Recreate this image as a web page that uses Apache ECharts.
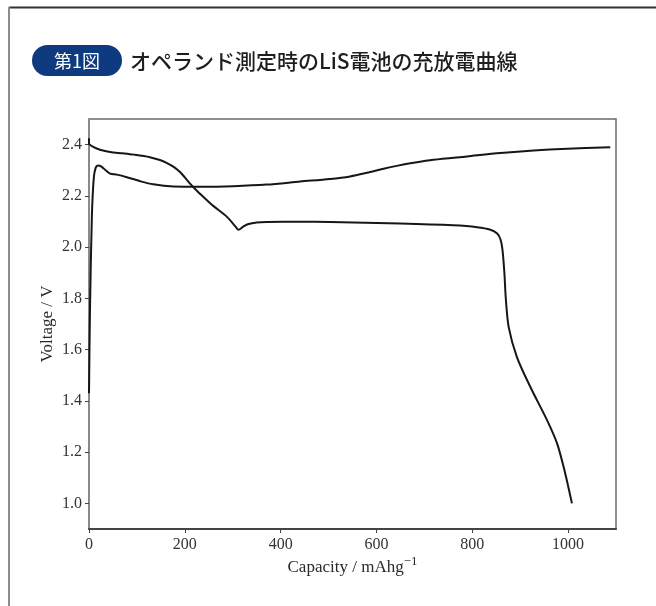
<!DOCTYPE html>
<html>
<head>
<meta charset="utf-8">
<script src="https://cdn.jsdelivr.net/npm/echarts@6/dist/echarts.min.js"></script>
<style>
  html, body { margin: 0; padding: 0; background: #fff; }
  #chart { width: 656px; height: 606px; }
</style>
</head>
<body>
<div id="chart"></div>
<script>
// Discharge curve (capacity in mAh/g, voltage in V)
const dischargeCapacity = [0, 0, 10, 23, 44, 70, 93, 127, 148, 162, 176, 190, 200, 210, 222, 240, 260, 288, 305, 312, 322, 333, 350, 371, 441, 503, 650, 760, 810, 838, 852, 859, 863, 867, 870, 876, 893, 921, 956, 977, 994, 1008];
const dischargeVoltage  = [2.425, 2.404, 2.390, 2.380, 2.371, 2.366, 2.361, 2.351, 2.340, 2.329, 2.314, 2.293, 2.272, 2.250, 2.226, 2.194, 2.160, 2.118, 2.082, 2.068, 2.080, 2.090, 2.096, 2.098, 2.099, 2.098, 2.092, 2.085, 2.078, 2.068, 2.053, 2.030, 1.990, 1.900, 1.800, 1.688, 1.572, 1.455, 1.325, 1.234, 1.117, 1.000];

// Charge curve
const chargeCapacity = [0, 2, 6, 10, 14, 19, 26, 36, 44, 58, 79, 107, 134, 176, 232, 301, 371, 441, 503, 545, 580, 615, 645, 671, 719, 789, 859, 928, 998, 1088];
const chargeVoltage  = [1.43, 1.75, 2.12, 2.27, 2.310, 2.319, 2.314, 2.298, 2.287, 2.283, 2.273, 2.257, 2.245, 2.237, 2.236, 2.238, 2.244, 2.256, 2.266, 2.276, 2.290, 2.306, 2.318, 2.327, 2.341, 2.354, 2.367, 2.377, 2.384, 2.390];

const xTicks = [0, 200, 400, 600, 800, 1000];
const yTicks = [1.0, 1.2, 1.4, 1.6, 1.8, 2.0, 2.2, 2.4];

const pairs = (xs, ys) => xs.map((x, i) => [x, ys[i]]);

const serif = '"Liberation Serif", "DejaVu Serif", serif';
const chart = echarts.init(document.getElementById('chart'), null, { renderer: 'canvas' });

const lineStyle = { color: '#161616', width: 2 };

chart.setOption({
  animation: false,
  backgroundColor: '#fff',
  grid: {
    left: 89, top: 119, right: 40, bottom: 77,
    show: true, borderColor: '#6a6a6a', borderWidth: 1.5
  },
  graphic: [
    { type: 'line', shape: { x1: 9, y1: 7.5, x2: 656, y2: 7.5 }, style: { stroke: '#333', lineWidth: 2 } },
    { type: 'line', shape: { x1: 9, y1: 7, x2: 9, y2: 606 }, style: { stroke: '#8c8c8c', lineWidth: 2 } },
    { type: 'rect', shape: { x: 32, y: 45, width: 90, height: 31, r: 15.5 }, style: { fill: '#0e3a80' } },
    { type: 'text', x: 77, y: 61, style: { text: '第1図', fill: '#fff', font: '400 18px "Noto Sans CJK JP"', align: 'center', verticalAlign: 'middle' } },
    { type: 'text', x: 130, y: 61, style: { text: 'オペランド測定時のLiS電池の充放電曲線', fill: '#1e1e1e', font: '500 21px "Noto Sans CJK JP"', align: 'left', verticalAlign: 'middle' } }
  ],
  xAxis: {
    type: 'value', min: 0, max: 1100,
    name: '{b|Capacity / mAhg}{s|−1}',
    nameLocation: 'middle', nameGap: 26, nameMoveOverlap: false,
    nameTextStyle: {
      rich: {
        b: { fontFamily: serif, fontSize: 17, color: '#2a2a2a', verticalAlign: 'bottom', lineHeight: 20 },
        s: { fontFamily: serif, fontSize: 13, color: '#2a2a2a', verticalAlign: 'top', padding: [0, 0, 8, 0] }
      }
    },
    axisLine: { show: true, onZero: false, lineStyle: { color: '#444', width: 2 } },
    axisTick: { show: true, length: 4, customValues: xTicks, lineStyle: { color: '#444' } },
    axisLabel: { customValues: xTicks, fontFamily: serif, fontSize: 16, color: '#333', margin: 8,
      formatter: v => String(v) },
    splitLine: { show: false }
  },
  yAxis: {
    type: 'value', min: 0.9, max: 2.5,
    name: 'Voltage / V',
    nameLocation: 'middle', nameGap: 33, nameMoveOverlap: false,
    nameTextStyle: { fontFamily: serif, fontSize: 17, color: '#2a2a2a' },
    axisLine: { show: true, onZero: false, lineStyle: { color: '#8a8a8a', width: 2 } },
    axisTick: { show: true, length: 4, customValues: yTicks, lineStyle: { color: '#444' } },
    axisLabel: { customValues: yTicks, fontFamily: serif, fontSize: 16, color: '#333', margin: 7,
      formatter: v => v.toFixed(1) },
    splitLine: { show: false }
  },
  series: [
    { type: 'line', name: 'discharge', data: pairs(dischargeCapacity, dischargeVoltage),
      showSymbol: false, smooth: 0.3, lineStyle, clip: true },
    { type: 'line', name: 'charge', data: pairs(chargeCapacity, chargeVoltage),
      showSymbol: false, smooth: 0.3, lineStyle, clip: true }
  ]
});
</script>
</body>
</html>
